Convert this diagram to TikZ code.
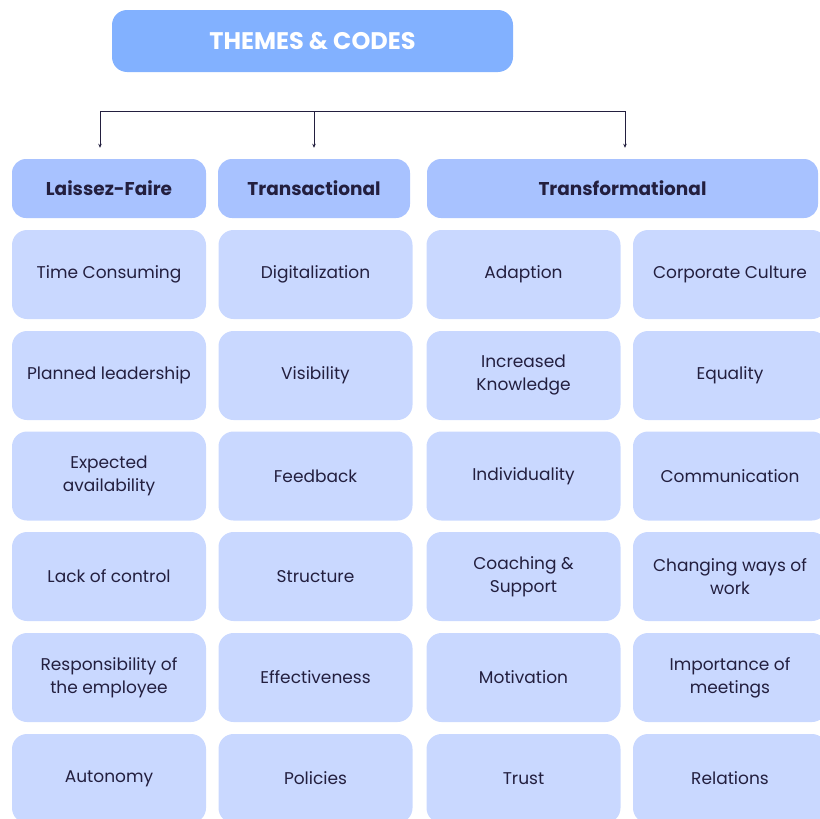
\documentclass[tikz,border=0pt]{standalone}
\usepackage{fontspec}
\setmainfont{Poppins}
\usetikzlibrary{arrows.meta}
\definecolor{titleblue}{HTML}{82B1FF}
\definecolor{headblue}{HTML}{A8C2FF}
\definecolor{cellblue}{HTML}{C9D8FF}
\definecolor{ink}{HTML}{231F3F}
\tikzset{
  title/.style={fill=titleblue,rounded corners=15pt,minimum width=401pt,minimum height=62pt,
    inner sep=0pt,text=white,font=\fontsize{24}{28}\selectfont\bfseries},
  header/.style={fill=headblue,rounded corners=14pt,minimum height=59pt,
    inner sep=0pt,text=ink,font=\fontsize{18.5}{22}\selectfont\bfseries},
  cell/.style={fill=cellblue,rounded corners=15pt,minimum width=194pt,minimum height=89pt,
    inner sep=0pt,align=center,text=ink,font=\fontsize{17}{23}\selectfont},
  link/.style={draw=ink,line width=0.9pt},
  arr/.style={link,-{Stealth[length=4pt,width=3.5pt]},shorten >=11pt}
}
\begin{document}
\begin{tikzpicture}[x=1pt,y=-1pt]
  \useasboundingbox (0,0) rectangle (819,819);
  \node[title] (codes) at (312.5,41) {THEMES \& CODES};
  % bracket down to the three styles
  \coordinate (bl) at (100,111);
  \coordinate (bm) at (314,111);
  \coordinate (br) at (625,111);
  \node[header,minimum width=194pt] (lf) at (109,188.5) {Laissez-Faire};
  \node[header,minimum width=192pt] (ta) at (314,188.5) {Transactional};
  \node[header,minimum width=391pt] (tf) at (622.5,188.5) {Transformational};
  \draw[link] (bl) -- (br);
  \draw[arr] (bl) -- (bl |- lf.north);
  \draw[arr] (bm) -- (bm |- ta.north);
  \draw[arr] (br) -- (br |- tf.north);
  % Laissez-Faire
  \node[cell] (lf1) at (109,274.5) {Time Consuming};
  \node[cell] (lf2) at (109,375.5) {Planned leadership};
  \node[cell] (lf3) at (109,476) {Expected\\availability};
  \node[cell] (lf4) at (109,576.5) {Lack of control};
  \node[cell] (lf5) at (109,677.5) {Responsibility of\\the employee};
  \node[cell] (lf6) at (109,778.5) {Autonomy};
  % Transactional
  \node[cell] (ta1) at (315.5,274.5) {Digitalization};
  \node[cell] (ta2) at (315.5,375.5) {Visibility};
  \node[cell] (ta3) at (315.5,476) {Feedback};
  \node[cell] (ta4) at (315.5,576.5) {Structure};
  \node[cell] (ta5) at (315.5,677.5) {Effectiveness};
  \node[cell] (ta6) at (315.5,778.5) {Policies};
  % Transformational
  \node[cell] (tf1) at (523.5,274.5) {Adaption};
  \node[cell] (tf2) at (523.5,375.5) {Increased\\Knowledge};
  \node[cell] (tf3) at (523.5,476) {Individuality};
  \node[cell] (tf4) at (523.5,576.5) {Coaching \&\\Support};
  \node[cell] (tf5) at (523.5,677.5) {Motivation};
  \node[cell] (tf6) at (523.5,778.5) {Trust};
  \node[cell] (tf7) at (730,274.5) {Corporate Culture};
  \node[cell] (tf8) at (730,375.5) {Equality};
  \node[cell] (tf9) at (730,476) {Communication};
  \node[cell] (tf10) at (730,576.5) {Changing ways of\\work};
  \node[cell] (tf11) at (730,677.5) {Importance of\\meetings};
  \node[cell] (tf12) at (730,778.5) {Relations};
\end{tikzpicture}
\end{document}
